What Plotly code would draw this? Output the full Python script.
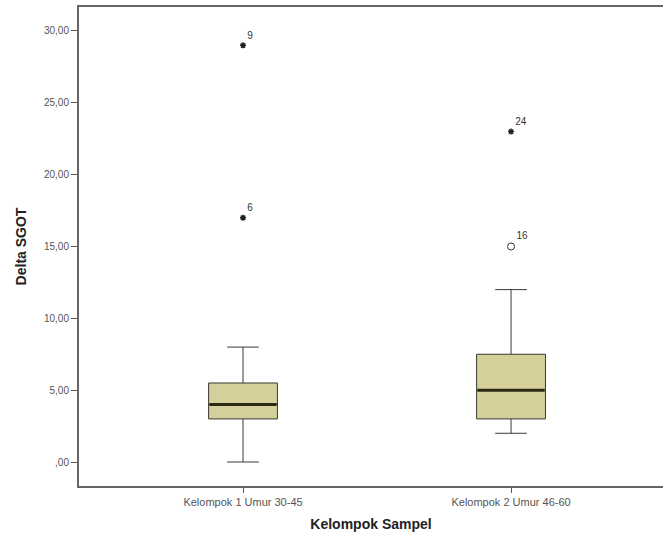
import plotly.graph_objects as go

categories = ["Kelompok 1 Umur 30-45", "Kelompok 2 Umur 46-60"]
cat_pos = [1, 2]
q1 = [3.0, 3.0]
median = [4.0, 5.0]
q3 = [5.5, 7.5]
lower = [0.0, 2.0]
upper = [8.0, 12.0]

extreme_x = [1, 1, 2]
extreme_y = [29.0, 17.0, 23.0]
extreme_lab = ["9", "6", "24"]
outlier_x = [2]
outlier_y = [15.0]
outlier_lab = ["16"]

ytick_vals = [0, 5, 10, 15, 20, 25, 30]
ytick_text = [",00", "5,00", "10,00", "15,00", "20,00", "25,00", "30,00"]

FONT = "Liberation Sans, Arial, sans-serif"
BOXW = 0.257

fig = go.Figure()
fig.add_trace(go.Box(
    x=cat_pos, q1=q1, median=median, q3=q3, lowerfence=lower, upperfence=upper,
    width=BOXW, whiskerwidth=0.46, fillcolor="#D4CF9B",
    line=dict(color="#3a3a30", width=1), boxpoints=False, hoverinfo="skip",
    showlegend=False,
))
# thick median line
fig.add_trace(go.Scatter(
    x=cat_pos, y=median, mode="markers",
    marker=dict(symbol="line-ew-open", size=48, color="#2a2810",
                line=dict(color="#2a2810", width=3)),
    showlegend=False, hoverinfo="skip",
))
fig.add_trace(go.Scatter(
    x=extreme_x, y=extreme_y, mode="markers+text", text=extreme_lab,
    textposition="top right", textfont=dict(family=FONT, size=10, color="#333"),
    marker=dict(symbol="asterisk-open", size=5, color="#222",
                line=dict(color="#222", width=1.5)),
    showlegend=False, hoverinfo="skip",
))
fig.add_trace(go.Scatter(
    x=outlier_x, y=outlier_y, mode="markers+text", text=outlier_lab,
    textposition="top right", textfont=dict(family=FONT, size=10, color="#333"),
    marker=dict(symbol="circle-open", size=7, color="#333",
                line=dict(color="#333", width=1)),
    showlegend=False, hoverinfo="skip",
))

fig.update_layout(
    width=663, height=540,
    margin=dict(l=79, r=0, t=7, b=54),
    paper_bgcolor="white", plot_bgcolor="white",
    font=dict(family=FONT, color="#333"),
    xaxis=dict(
        range=[0.388, 2.567], tickvals=cat_pos, ticktext=categories,
        showgrid=False, zeroline=False, showline=True, linecolor="#666", linewidth=2,
        mirror=True, ticks="outside", ticklen=5, tickcolor="#555",
        tickfont=dict(size=11, color="#555"),
        title=dict(text="<b>Kelompok Sampel</b>", font=dict(size=14, color="#222"), standoff=12),
    ),
    yaxis=dict(
        range=[-1.67, 31.67], tickvals=ytick_vals, ticktext=ytick_text,
        showgrid=False, zeroline=False, showline=True, linecolor="#666", linewidth=2,
        ticks="outside", ticklen=6, tickcolor="#555",
        tickfont=dict(size=10, color="#555"),
        title=dict(text="<b>Delta SGOT</b>", font=dict(size=14, color="#222"), standoff=14),
    ),
)

fig.write_html("out.html")
